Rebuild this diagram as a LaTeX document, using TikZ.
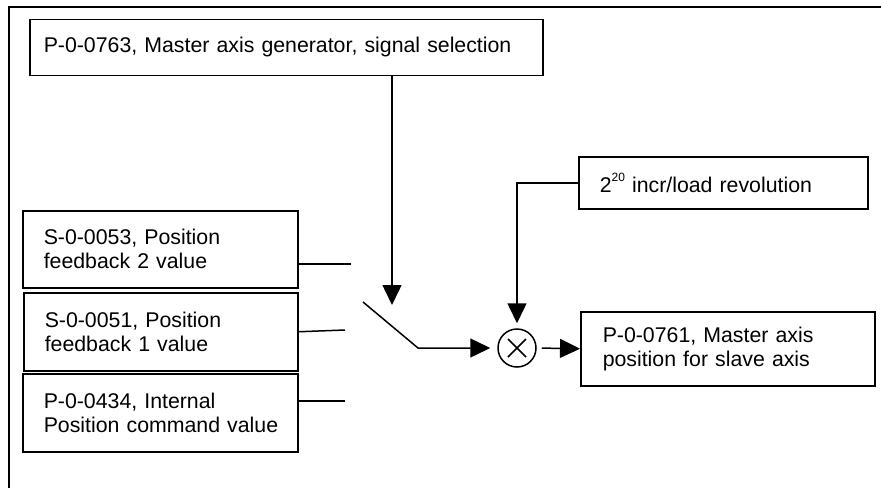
\documentclass[tikz,border=0pt]{standalone}
\usepackage{fontspec}
\setmainfont{Liberation Sans}
\usetikzlibrary{arrows.meta}
\begin{document}
\begin{tikzpicture}[x=1pt,y=-1pt,
  blk/.style={draw, line width=1.5pt, inner ysep=0pt, anchor=north west, align=left,
    font=\fontsize{21.3}{24}\selectfont},
  conn/.style={line width=1.5pt},
  arr/.style={conn, -{Triangle[length=20pt,width=19pt]}},
]
\useasboundingbox (0,0) rectangle (881,488);
\draw[line width=2.5pt] (9,488) -- (9,7) -- (881,7);

% boxes
\node[blk, text width=485pt, inner xsep=14pt, minimum height=56pt] (sel) at (29,18.5)
  {\mbox{P-0-0763, Master axis generator, signal selection}};
\node[blk, text width=233pt, inner xsep=21pt, minimum height=77pt] (fb2) at (22,210)
  {\mbox{S-0-0053, Position}\\\mbox{feedback 2 value}};
\node[blk, text width=232pt, inner xsep=21pt, minimum height=78pt] (fb1) at (23,292)
  {\mbox{S-0-0051, Position}\\\mbox{feedback 1 value}};
\node[blk, text width=233pt, inner xsep=21pt, minimum height=78pt] (ipc) at (22,373)
  {\mbox{P-0-0434, Internal}\\\mbox{Position command value}};
\node[blk, text width=247pt, inner xsep=21pt, minimum height=52pt] (incr) at (578,156)
  {\mbox{2\raisebox{0.5em}{\fontsize{12}{12}\selectfont 20} incr/load revolution}};
\node[blk, text width=250pt, inner xsep=22pt, minimum height=74pt] (out) at (580,311)
  {\mbox{P-0-0761, Master axis}\\\mbox{position for slave axis}};

% multiplier
\node[circle, draw, line width=1.5pt, minimum size=38pt, inner sep=0pt] (mul) at (517,348) {};
\draw[conn] (mul.center) +(-9,-9) -- +(9,9);
\draw[conn] (mul.center) +(-9,9) -- +(9,-9);

% switch inputs
\coordinate (s1) at (351,264);
\coordinate (s2) at (345,330);
\coordinate (s3) at (345,401);
\draw[conn] (fb2.east |- s1) -- (s1);
\draw[conn] (fb1.east) -- (s2);
\draw[conn] (ipc.east |- s3) -- (s3);

% switch blade
\coordinate (sw0) at (363,302);
\coordinate (sw1) at (418,348);
\draw[arr, shorten >=7pt] (sw0) -- (sw1) -- (mul.west);

% selection arrow
\coordinate (swtip) at (392,305);
\draw[arr] (sel.south -| swtip) -- (swtip);

% scaling arrow
\draw[arr, shorten >=5pt] (incr.west) -- (mul.north |- incr.west) -- (mul.north);

% output arrow
\draw[arr, shorten <=5pt] (mul.east) -- (out.west);
\end{tikzpicture}
\end{document}
